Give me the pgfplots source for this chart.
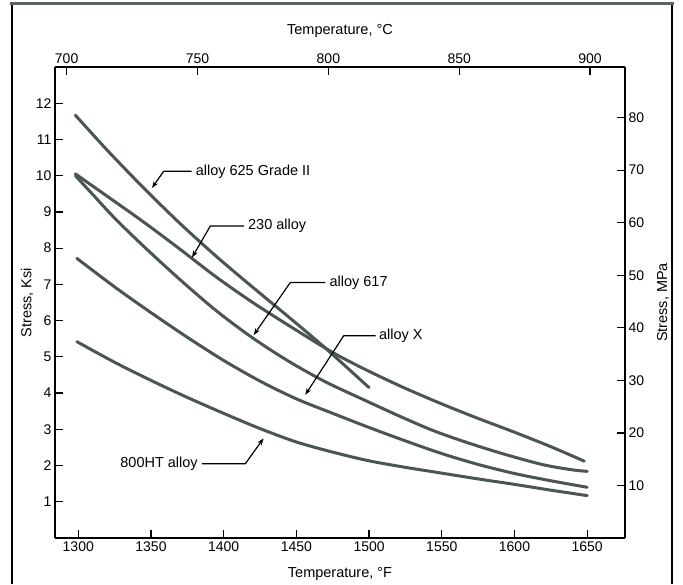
\documentclass[border=0pt]{standalone}
\usepackage{fontspec}
\setmainfont{Liberation Sans}
\usepackage{pgfplots}
\pgfplotsset{compat=1.18}
\usetikzlibrary{arrows.meta}
\definecolor{curve}{HTML}{4B5552}
\definecolor{framegray}{HTML}{5E6462}

\pgfplotstableread{
T S
1298 11.67
1320 10.70
1345 9.66
1370 8.68
1395 7.77
1420 6.92
1445 6.09
1470 5.24
1500 4.15
}\alloyA

\pgfplotstableread{
T S
1298 10.05
1320 9.43
1345 8.72
1370 7.97
1395 7.20
1420 6.50
1445 5.86
1475 5.12
1500 4.60
1525 4.13
1550 3.70
1575 3.30
1600 2.92
1625 2.52
1648 2.12
}\alloyB

\pgfplotstableread{
T S
1298 10.00
1310 9.48
1325 8.83
1345 8.05
1370 7.13
1395 6.27
1420 5.52
1445 4.87
1470 4.31
1495 3.84
1520 3.38
1545 2.95
1570 2.60
1595 2.29
1620 2.02
1640 1.88
1650 1.84
}\alloyC

\pgfplotstableread{
T S
1299 7.72
1325 6.93
1350 6.22
1375 5.54
1400 4.90
1425 4.33
1450 3.84
1475 3.44
1500 3.05
1525 2.68
1550 2.33
1575 2.03
1600 1.78
1625 1.58
1650 1.40
}\alloyD

\pgfplotstableread{
T S
1299 5.42
1325 4.85
1350 4.35
1375 3.88
1400 3.44
1425 3.02
1450 2.65
1475 2.37
1500 2.13
1525 1.95
1550 1.79
1575 1.63
1600 1.48
1625 1.32
1650 1.17
}\alloyE

\begin{document}
\begin{tikzpicture}[x=1pt,y=1pt]
\path[use as bounding box] (0,0) rectangle (683,584);
\draw[line width=1.3pt] (12,0) -- (12,580);
\draw[line width=1.3pt] (672,0) -- (672,580);
\draw[line width=3pt, framegray] (10,580) -- (674,580);

\pgfplotsset{
  myax/.style={
    at={(55pt,46pt)}, anchor=south west, scale only axis,
    width=570pt, height=471pt,
    axis line style={-, line width=1.3pt, black},
    tick style={line width=1.3pt, black},
    tick align=inside, major tick length=8pt,
    tick label style={font=\fontsize{14}{16}\selectfont},
    label style={font=\fontsize{14.5}{17}\selectfont},
    /pgf/number format/assume math mode=true,
    /pgf/number format/1000 sep={},
    clip=false,
  }
}

\begin{axis}[myax,
  xmin=1284, xmax=1676, ymin=0, ymax=13,
  axis x line*=bottom, axis y line*=left,
  xtick={1300,1350,...,1650}, ytick={1,2,...,12},
  xlabel={Temperature, °F}, ylabel={Stress, Ksi},
  xlabel style={at={(axis description cs:0.5,0)}, anchor=center, yshift=-36pt},
  ylabel style={at={(axis description cs:-0.049,0.5)}, anchor=center},
]
\addplot[curve, line width=3pt, smooth, line cap=round] table[x=T,y=S] {\alloyA};
\addplot[curve, line width=3pt, smooth, line cap=round] table[x=T,y=S] {\alloyB};
\addplot[curve, line width=3pt, smooth, line cap=round] table[x=T,y=S] {\alloyC};
\addplot[curve, line width=3pt, smooth, line cap=round] table[x=T,y=S] {\alloyD};
\addplot[curve, line width=3pt, smooth, line cap=round] table[x=T,y=S] {\alloyE};

\begin{scope}[font=\fontsize{14.5}{17}\selectfont]
\draw[line width=1.2pt, -{Stealth[length=7pt,width=5pt]}] (1378,10.12) -- (1358.7,10.12) -- (1350.7,9.66);
\node[anchor=west, inner sep=1pt] at (1380,10.12) {alloy 625 Grade II};
\draw[line width=1.2pt, -{Stealth[length=7pt,width=5pt]}] (1414,8.61) -- (1390.8,8.61) -- (1378.2,7.74);
\node[anchor=west, inner sep=1pt] at (1416,8.61) {230 alloy};
\draw[line width=1.2pt, -{Stealth[length=7pt,width=5pt]}] (1470,7.05) -- (1445.8,7.05) -- (1420.6,5.60);
\node[anchor=west, inner sep=1pt] at (1472,7.05) {alloy 617};
\draw[line width=1.2pt, -{Stealth[length=7pt,width=5pt]}] (1504.5,5.58) -- (1482.5,5.58) -- (1456.1,3.95);
\node[anchor=west, inner sep=1pt] at (1506,5.58) {alloy X};
\draw[line width=1.2pt, -{Stealth[length=7pt,width=5pt]}] (1385,2.05) -- (1414.9,2.05) -- (1427.4,2.75);
\node[anchor=east, inner sep=1pt] at (1383,2.05) {800HT alloy};
\end{scope}
\end{axis}

\begin{axis}[myax,
  xmin=695.556, xmax=913.333, ymin=0, ymax=89.635,
  axis x line*=top, axis y line*=right,
  xtick={700,750,...,900}, ytick={10,20,...,80},
  xlabel={Temperature, °C}, ylabel={Stress, MPa},
  xlabel style={at={(axis description cs:0.5,1)}, anchor=center, yshift=36pt},
  ylabel style={at={(axis description cs:1.0667,0.5)}, anchor=center},
]
\end{axis}
\end{tikzpicture}
\end{document}
